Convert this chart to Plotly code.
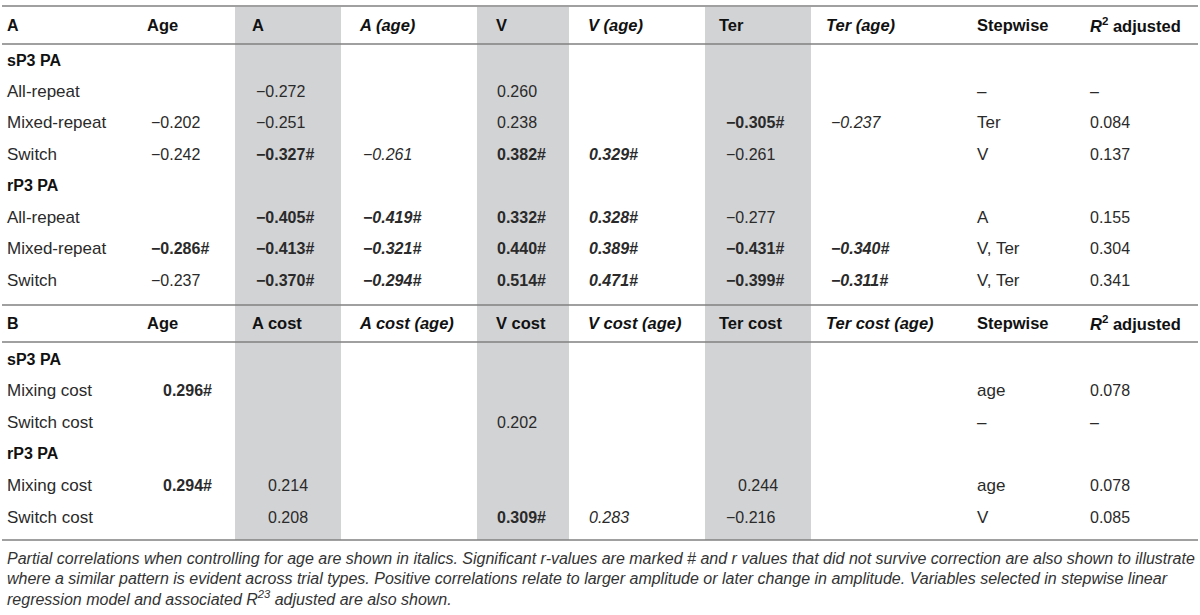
import plotly.graph_objects as go

# ---- table content -------------------------------------------------------
labels_a = ["sP3 PA", "All-repeat", "Mixed-repeat", "Switch",
            "rP3 PA", "All-repeat", "Mixed-repeat", "Switch"]
labels_b = ["sP3 PA", "Mixing cost", "Switch cost",
            "rP3 PA", "Mixing cost", "Switch cost"]
group_labels = ["sP3 PA", "rP3 PA"]

headers_a = ["Age", "A", "A (age)", "V", "V (age)", "Ter", "Ter (age)",
             "Stepwise", "<i>R</i><sup>2</sup> adjusted"]
headers_b = ["Age", "A cost", "A cost (age)", "V cost", "V cost (age)",
             "Ter cost", "Ter cost (age)", "Stepwise", "<i>R</i><sup>2</sup> adjusted"]

# panel A columns
age_a = ["", "", "−0.202", "−0.242", "", "", "−0.286#", "−0.237"]
amp_a = ["", "−0.272", "−0.251", "−0.327#", "", "−0.405#", "−0.413#", "−0.370#"]
amp_age_a = ["", "", "", "−0.261", "", "−0.419#", "−0.321#", "−0.294#"]
v_a = ["", "0.260", "0.238", "0.382#", "", "0.332#", "0.440#", "0.514#"]
v_age_a = ["", "", "", "0.329#", "", "0.328#", "0.389#", "0.471#"]
ter_a = ["", "", "−0.305#", "−0.261", "", "−0.277", "−0.431#", "−0.399#"]
ter_age_a = ["", "", "−0.237", "", "", "", "−0.340#", "−0.311#"]
step_a = ["", "–", "Ter", "V", "", "A", "V, Ter", "V, Ter"]
r2_a = ["", "–", "0.084", "0.137", "", "0.155", "0.304", "0.341"]

# panel B columns
age_b = ["", "0.296#", "", "", "0.294#", ""]
amp_b = ["", "", "", "", "0.214", "0.208"]
amp_age_b = ["", "", "", "", "", ""]
v_b = ["", "", "0.202", "", "", "0.309#"]
v_age_b = ["", "", "", "", "", "0.283"]
ter_b = ["", "", "", "", "0.244", "−0.216"]
ter_age_b = ["", "", "", "", "", ""]
step_b = ["", "age", "–", "", "age", "V"]
r2_b = ["", "0.078", "–", "", "0.078", "0.085"]

footnote = [
    "Partial correlations when controlling for age are shown in italics. Significant r-values are marked # and r values that did not survive correction are also shown to illustrate",
    "where a similar pattern is evident across trial types. Positive correlations relate to larger amplitude or later change in amplitude. Variables selected in stepwise linear",
    "regression model and associated <i>R</i><sup>23</sup> adjusted are also shown.",
]

# ---- layout constants ------------------------------------------------------
W, H = 1200, 615
FONT = "Liberation Sans, Arial, sans-serif"
COL_X = [163, 268, 375, 497, 589, 738, 843, 977, 1090]    # where the digits start
HEAD_X = [147, 252, 359, 496, 588, 719, 826, 977, 1090]
MINUS_SHIFT = 12
ITALIC_COLS = {2, 4, 6}
TEXT_COLS = {7}
SHADE = [(235, 341), (477, 569), (705, 811)]
RULES_Y = [6, 44, 305, 342, 540]
SHADE_COLOR = "#d2d3d5"
RULE_COLOR = "#808080"
DATA_COLOR = "#2a2a2a"
HEAD_COLOR = "#111111"


def add_text(fig, x, y, text, size=16, color=DATA_COLOR):
    fig.add_annotation(
        x=x, y=y, xref="x", yref="y", text=text, showarrow=False,
        xanchor="left", yanchor="middle", borderpad=0, borderwidth=0,
        font=dict(family=FONT, size=size, color=color),
    )


def cell_markup(val, col):
    txt = val
    if col in ITALIC_COLS:
        txt = f"<i>{txt}</i>"
    if "#" in val:
        txt = f"<b>{txt}</b>"
    return txt


def add_panel(fig, name, headers, labels, columns, head_y, row_y0, row_step):
    add_text(fig, 7, head_y, f"<b>{name}</b>", color=HEAD_COLOR)
    for j, h in enumerate(headers):
        h_txt = f"<i>{h}</i>" if j in ITALIC_COLS else h
        add_text(fig, HEAD_X[j], head_y, f"<b>{h_txt}</b>", size=16.5, color=HEAD_COLOR)

    for i, lab in enumerate(labels):
        y = row_y0 + i * row_step
        if lab in group_labels:
            add_text(fig, 7, y, f"<b>{lab}</b>", color=HEAD_COLOR)
            continue
        add_text(fig, 7, y, lab, size=17)
        for j, col in enumerate(columns):
            val = col[i]
            if not val:
                continue
            x = COL_X[j] - MINUS_SHIFT if val.startswith("−") else COL_X[j]
            size = 17 if j in TEXT_COLS else 16
            add_text(fig, x, y, cell_markup(val, j), size=size)


fig = go.Figure()

for x0, x1 in SHADE:
    fig.add_shape(type="rect", x0=x0, x1=x1, y0=RULES_Y[0] + 1, y1=RULES_Y[-1],
                  fillcolor=SHADE_COLOR, line=dict(width=0), layer="below")
for y in RULES_Y:
    fig.add_shape(type="line", x0=2, x1=W - 2, y0=y, y1=y,
                  line=dict(color=RULE_COLOR, width=1.5))

add_panel(fig, "A", headers_a, labels_a,
          [age_a, amp_a, amp_age_a, v_a, v_age_a, ter_a, ter_age_a, step_a, r2_a],
          head_y=25, row_y0=60, row_step=31.45)
add_panel(fig, "B", headers_b, labels_b,
          [age_b, amp_b, amp_age_b, v_b, v_age_b, ter_b, ter_age_b, step_b, r2_b],
          head_y=323, row_y0=359, row_step=31.6)

for k, line in enumerate(footnote):
    add_text(fig, 7, 558 + k * 20, f"<i>{line}</i>", size=16, color="#333333")

fig.update_xaxes(range=[0, W], visible=False, fixedrange=True)
fig.update_yaxes(range=[H, 0], visible=False, fixedrange=True)
fig.update_layout(
    width=W, height=H,
    margin=dict(l=0, r=0, t=0, b=0),
    plot_bgcolor="white", paper_bgcolor="white",
    showlegend=False,
)

# the page's default 8px body margin would push the table off its place
fig.write_html("out.html", post_script="document.body.style.margin='0';",
               config={"displayModeBar": False})
